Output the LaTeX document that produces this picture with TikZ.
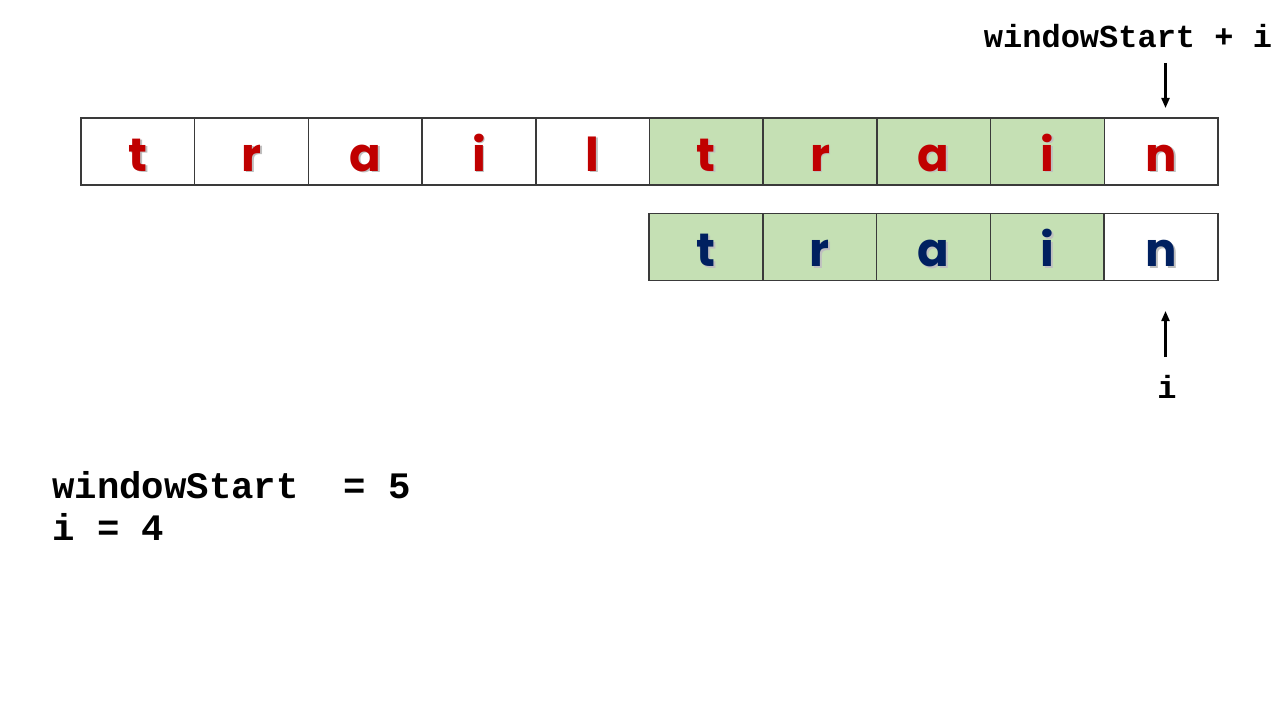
\documentclass[tikz,border=0pt]{standalone}
\usepackage{fontspec}
\setmonofont{Liberation Mono}
\newfontfamily\cellfont{Poppins}
\usetikzlibrary{arrows.meta}
\definecolor{cellgreen}{HTML}{C5E0B4}
\definecolor{letterred}{HTML}{C00000}
\definecolor{letterblue}{HTML}{002060}
\definecolor{gridline}{HTML}{3A3A3A}
\tikzset{
  cellbox/.style={draw=gridline, line width=1.1pt, minimum width=85.3pt, minimum height=50.3pt, inner sep=0pt, outer sep=0pt},
  greencell/.style={cellbox, fill=cellgreen},
  letter/.style={anchor=base, inner sep=0pt, font=\cellfont\bfseries\fontsize{35}{40}\selectfont},
  shadowletter/.style={letter, text=black!25},
  codetext/.style={inner sep=0pt, font=\ttfamily\bfseries\fontsize{24}{28}\selectfont},
  bigcode/.style={inner sep=0pt, anchor=base west, font=\ttfamily\bfseries\fontsize{28}{32}\selectfont},
  pointer/.style={line width=1.6pt, -{Triangle[length=7.5pt, width=6pt]}},
}
\begin{document}
\begin{tikzpicture}[x=0.75pt, y=-0.75pt]
\useasboundingbox (0,0) rectangle (1280,720);
% top row
\foreach \k/\ch/\st in {1/t/cellbox,2/r/cellbox,3/a/cellbox,4/i/cellbox,5/l/cellbox,6/t/greencell,7/r/greencell,8/a/greencell,9/i/greencell,10/n/cellbox}{
  \node[\st] (c\k) at ({81+113.7*(\k-0.5)},151.5) {};
  \node[shadowletter] (cs\k) at ([xshift=1.4pt, yshift=-1.4pt]c\k.south) [yshift=10.5pt] {\ch};
  \node[letter, text=letterred] (cl\k) at (c\k.south) [yshift=10.5pt] {\ch};
}
% bottom row
\foreach \k/\ch/\st in {1/t/greencell,2/r/greencell,3/a/greencell,4/i/greencell,5/n/cellbox}{
  \node[\st] (d\k) at ({649+113.8*(\k-0.5)},247) {};
  \node[shadowletter] (ds\k) at ([xshift=1.4pt, yshift=-1.4pt]d\k.south) [yshift=10.5pt] {\ch};
  \node[letter, text=letterblue] (dl\k) at (d\k.south) [yshift=10.5pt] {\ch};
}
% top label and arrow
\node[codetext, anchor=base] (wsi) at (1128,48) {windowStart + i};
\coordinate (ta) at (1165.5,63);
\coordinate (tb) at (1165.5,108);
\draw[pointer] (ta) -- (tb);
% bottom label and arrow
\node[codetext, anchor=base] (ilab) at (1167,398) {i};
\coordinate (ba) at (1165.5,357);
\coordinate (bb) at (1165.5,311);
\draw[pointer] (ba) -- (bb);
% values
\node[bigcode] (v1) at (52,498) {windowStart\ \ = 5};
\node[bigcode] (v2) at (52,540) {i = 4};
\end{tikzpicture}
\end{document}
